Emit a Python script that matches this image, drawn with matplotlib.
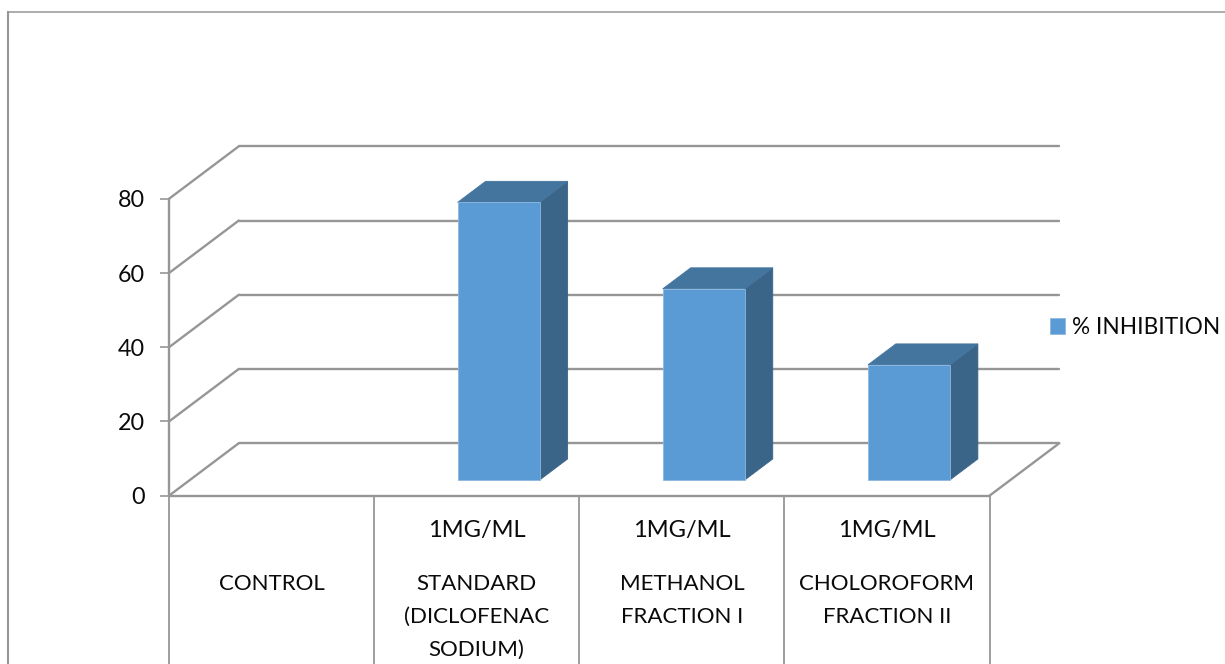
import matplotlib
matplotlib.use("Agg")
import matplotlib.pyplot as plt
from matplotlib.lines import Line2D

# Chart data
categories = ["CONTROL", "STANDARD\n(DICLOFENAC\nSODIUM)", "METHANOL\nFRACTION I", "CHOLOROFORM\nFRACTION II"]
doses = ["", "1MG/ML", "1MG/ML", "1MG/ML"]
inhibition = [0, 74.8, 51.5, 31.0]
series_name = "% INHIBITION"
y_ticks = [0, 20, 40, 60, 80]

W, H = 1225, 664
GRID = "#969696"
INK = "#0A0A0A"
FRONT, SIDE, TOP = "#5B9BD5", "#3A6488", "#44759F"
EDGE = "#8DB8E0"
TEXT_SIZE = 16

plt.rcParams["font.family"] = ["Lato", "DejaVu Sans"]
fig = plt.figure(figsize=(W / 100, H / 100), dpi=100)

# Front plane of the pseudo-3D box, placed in pixel terms
left, right, y0, y80 = 169.0, 989.5, 495.7, 198.8
ax = fig.add_axes([left / W, 1 - y0 / H, (right - left) / W, (y0 - y80) / H])
ax.set_xlim(0, len(categories))
ax.set_ylim(0, 80)
ax.patch.set_visible(False)
for side in ("top", "right", "bottom", "left"):
    ax.spines[side].set_visible(False)

# Depth of the box, in data units
px_per_cat = (right - left) / len(categories)
px_per_val = (y0 - y80) / 80
DX = 69.8 / px_per_cat
DY = 52.5 / px_per_val
line_kw = dict(color=GRID, lw=1.7, clip_on=False, solid_capstyle="round")

# Back wall gridlines and the diagonals joining them to the front axis
n = len(categories)
for v in y_ticks:
    ax.plot([DX, n + DX], [v + DY, v + DY], zorder=1, **line_kw)
    ax.plot([0, DX], [v, v + DY], zorder=1, **line_kw)
ax.plot([n, n + DX], [0, DY], zorder=1, **line_kw)
ax.plot([0, 0], [0, 80], zorder=1, **line_kw)
ax.plot([0, n], [0, 0], zorder=1, **line_kw)

# Bars sit in the middle of the floor depth
BAR_W = 0.4
D_START, D_SPAN = 0.3, 0.4
bar_x = [i + 0.5 + 0.315 * DX for i in range(n)]
base = D_START * DY
dx, dy = D_SPAN * DX, D_SPAN * DY
shown = [(x, v) for x, v in zip(bar_x, inhibition) if v > 0]
for x, v in shown:
    xl, xr = x - BAR_W / 2, x + BAR_W / 2
    top = base + v
    ax.fill([xr, xr + dx, xr + dx, xr], [base, base + dy, top + dy, top],
            color=SIDE, lw=0.6, ec=SIDE, zorder=3, clip_on=False)
    ax.fill([xl, xr, xr + dx, xl + dx], [top, top, top + dy, top + dy],
            color=TOP, lw=0.6, ec=TOP, zorder=3, clip_on=False)
bars = ax.bar([s[0] for s in shown], [s[1] for s in shown], bottom=base, width=BAR_W,
              color=FRONT, edgecolor=EDGE, linewidth=0.6, zorder=4, clip_on=False)

# Y axis
ax.set_yticks(y_ticks)
ax.tick_params(axis="y", length=6.5, width=1.2, color=GRID, pad=11, labelsize=16.8, labelcolor=INK)

# Category separators as long ticks, labels on minor ticks between them
ax.set_xticks(range(n + 1))
ax.set_xticklabels([])
ax.tick_params(axis="x", which="major", length=125, width=1.3, color=GRID)
ax.set_xticks([i + 0.5 for i in range(n)], minor=True)
ax.set_xticklabels(categories, minor=True, fontsize=TEXT_SIZE, color=INK, linespacing=1.8)
ax.tick_params(axis="x", which="minor", length=0, pad=56.5)

# Dose line above each category name
for i, d in enumerate(doses):
    if d:
        ax.annotate(d, xy=(i + 0.5, 0), xytext=(0, -35), textcoords="offset pixels",
                    ha="center", va="center", fontsize=17, color=INK, annotation_clip=False)

# Legend
bars.set_label(series_name)
ax.legend(handles=[bars], loc="center left", bbox_to_anchor=(1041 / W, 1 - 327.5 / H),
          bbox_transform=fig.transFigure, frameon=False, fontsize=16.3, handlelength=0.68,
          handleheight=0.68, handletextpad=0.28, borderpad=0, borderaxespad=0.4, labelcolor=INK)

# Outer chart border, cut off at the bottom of the image
fig.add_artist(Line2D([8 / W, 8 / W], [0, 1 - 12 / H], color=GRID, lw=1.5))
fig.add_artist(Line2D([8 / W, 1], [1 - 12 / H, 1 - 12 / H], color=GRID, lw=1.1))

fig.savefig("out.png", dpi=100, facecolor="white")
